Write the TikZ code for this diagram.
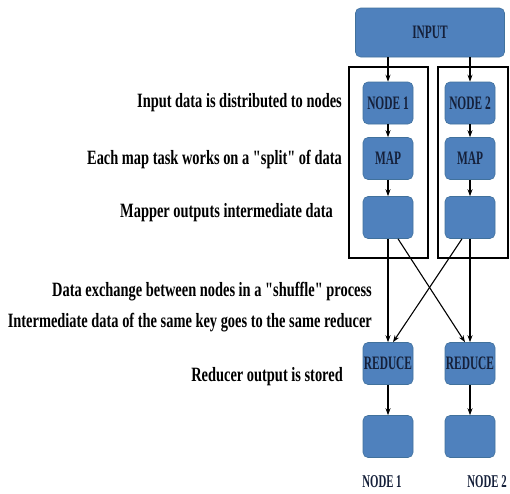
\documentclass[tikz,border=0pt]{standalone}
\usepackage{fontspec}
\setmainfont{Liberation Serif}
\newfontfamily\labfont[FakeStretch=0.71]{Liberation Serif}
\newfontfamily\boxfont[FakeStretch=0.6]{Liberation Serif}
\usetikzlibrary{arrows.meta}
\definecolor{boxblue}{HTML}{4F81BD}
\definecolor{boxedge}{HTML}{41719C}
\definecolor{boxtext}{HTML}{15203A}
\tikzset{
  bluebox/.style={draw=boxedge, line width=0.6pt, fill=boxblue, rounded corners=5pt,
    minimum width=50pt, minimum height=42pt, inner sep=0pt,
    font=\boxfont\bfseries\fontsize{19}{19}\selectfont, text=boxtext},
  frame/.style={draw=black, line width=2.6pt},
  flow/.style={draw=black, line width=1.1pt, -{Stealth[length=7pt,width=5pt]}},
  lab/.style={anchor=east, inner sep=0pt, font=\labfont\bfseries\fontsize{20.3}{20.3}\selectfont},
  foot/.style={inner sep=0pt, font=\boxfont\bfseries\fontsize{18}{18}\selectfont, text=boxtext}
}
\begin{document}
\begin{tikzpicture}[x=1pt,y=-1pt]
\useasboundingbox (0,0) rectangle (510,493);
% frames
\draw[frame] (349,67) rectangle (428,258);
\draw[frame] (438,67) rectangle (508,258);
% boxes
\node[bluebox, minimum width=149pt, minimum height=49pt] (input) at (430,32.5) {INPUT};
\node[bluebox] (n1) at (388,103) {NODE 1};
\node[bluebox] (n2) at (470,103) {NODE 2};
\node[bluebox] (m1) at (388,158.5) {MAP};
\node[bluebox] (m2) at (470,158.5) {MAP};
\node[bluebox] (o1) at (388,217.5) {};
\node[bluebox] (o2) at (470,217.5) {};
\node[bluebox] (r1) at (388,363.5) {REDUCE};
\node[bluebox] (r2) at (470,363.5) {REDUCE};
\node[bluebox] (s1) at (388,436.5) {};
\node[bluebox] (s2) at (470,436.5) {};
% arrows
\draw[flow] (n1 |- input.south) -- (n1.north);
\draw[flow] (n2 |- input.south) -- (n2.north);
\draw[flow] (n1) -- (m1);
\draw[flow] (n2) -- (m2);
\draw[flow] (m1) -- (o1);
\draw[flow] (m2) -- (o2);
\draw[flow] (o1.south) -- (r1.north);
\draw[flow] (o2.south) -- (r2.north);
\draw[flow] ([xshift=10pt]o1.south) -- ([xshift=-5pt]r2.north);
\draw[flow] ([xshift=-8pt]o2.south) -- ([xshift=5pt]r1.north);
\draw[flow] (r1) -- (s1);
\draw[flow] (r2) -- (s2);
% labels
\node[lab] (t1) at (342,103) {Input data is distributed to nodes};
\node[lab] (t2) at (342,160) {Each map task works on a "split" of data};
\node[lab] (t3) at (333,213) {Mapper outputs intermediate data};
\node[lab] (t4) at (372,292) {Data exchange between nodes in a "shuffle" process};
\node[lab] (t5) at (372,323) {Intermediate data of the same key goes to the same reducer};
\node[lab] (t6) at (343,377) {Reducer output is stored};
\node[foot] (f1) at (382,482) {NODE 1};
\node[foot] (f2) at (487,482) {NODE 2};
\end{tikzpicture}
\end{document}
